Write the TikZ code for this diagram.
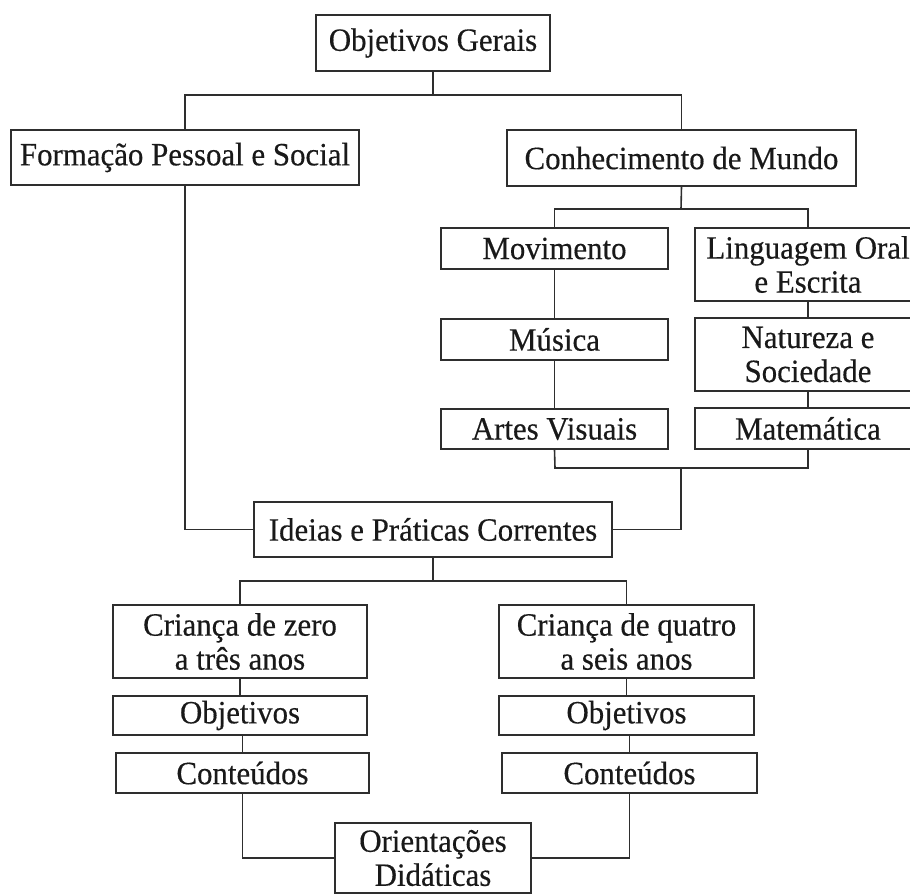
\documentclass[tikz,border=0pt]{standalone}
\usepackage{fontspec}
\setmainfont{Liberation Serif}[FakeStretch=0.95,FakeBold=0.4]
\begin{document}
\begin{tikzpicture}[x=1pt,y=-1pt,
  box/.style={draw=black!82,line width=1.6pt,inner sep=0pt,align=center,
    text=black!90,font=\fontsize{32.5}{34}\selectfont},
  conn/.style={draw=black!82,line width=1.6pt}]
\clip (0,0) rectangle (910,895);
% boxes: center, width, height
\node[box,minimum width=234,minimum height=56] (og) at (433,43) {Objetivos Gerais};
\node[box,minimum width=348,minimum height=55] (fps) at (185,157.5) {Formação Pessoal e Social};
\node[box,minimum width=349,minimum height=56] (cm) at (681.5,158) {Conhecimento de Mundo};
\node[box,minimum width=227,minimum height=41] (mov) at (554.5,248.5) {Movimento};
\node[box,minimum width=226,minimum height=73] (loe) at (808,264.5) {Linguagem Oral\\e Escrita};
\node[box,minimum width=227,minimum height=41] (mus) at (554.5,339.5) {Música};
\node[box,minimum width=226,minimum height=73] (ns) at (808,354.5) {Natureza e\\Sociedade};
\node[box,minimum width=227,minimum height=40] (av) at (554.5,429) {Artes Visuais};
\node[box,minimum width=226,minimum height=41] (mat) at (808,428.5) {Matemática};
\node[box,minimum width=358,minimum height=55] (ipc) at (433,529.5) {Ideias e Práticas Correntes};
\node[box,minimum width=254,minimum height=73] (cz) at (240,641.5) {Criança de zero\\a três anos};
\node[box,minimum width=254,minimum height=39] (objl) at (240,715.5) {Objetivos};
\node[box,minimum width=253,minimum height=40] (conl) at (242.5,773) {Conteúdos};
\node[box,minimum width=255,minimum height=73] (cq) at (626.5,641.5) {Criança de quatro\\a seis anos};
\node[box,minimum width=255,minimum height=39] (objr) at (626.5,715.5) {Objetivos};
\node[box,minimum width=255,minimum height=40] (conr) at (629.5,773) {Conteúdos};
\node[box,minimum width=196,minimum height=70] (od) at (433,858) {Orientações\\Didáticas};
% junction coordinates
\coordinate (j1) at (433,95);
\coordinate (j2) at (681,209);
\coordinate (j3) at (555,468);
\coordinate (j4) at (681,468);
\coordinate (j5) at (433,581);
% connectors
\draw[conn] (og.south) -- (j1);
\draw[conn] (j1) -| (fps.north);
\draw[conn] (j1) -| (cm.north);
\draw[conn] (cm.south) -- (j2);
\draw[conn] (j2) -| (mov.north);
\draw[conn] (j2) -| (loe.north);
\draw[conn] (mov.south) -- (mus.north);
\draw[conn] (mus.south) -- (av.north);
\draw[conn] (loe.south) -- (ns.north);
\draw[conn] (ns.south) -- (mat.north);
\draw[conn] (av.south) -- (j3) -| (mat.south);
\draw[conn] (j4) |- (ipc.east);
\draw[conn] (fps.south) |- (ipc.west);
\draw[conn] (ipc.south) -- (j5);
\draw[conn] (j5) -| (cz.north);
\draw[conn] (j5) -| (cq.north);
\draw[conn] (cz.south) -- (objl.north);
\draw[conn] (objl.south -| conl.north) -- (conl.north);
\draw[conn] (cq.south) -- (objr.north);
\draw[conn] (objr.south -| conr.north) -- (conr.north);
\draw[conn] (conl.south) |- (od.west);
\draw[conn] (conr.south) |- (od.east);
\end{tikzpicture}
\end{document}
